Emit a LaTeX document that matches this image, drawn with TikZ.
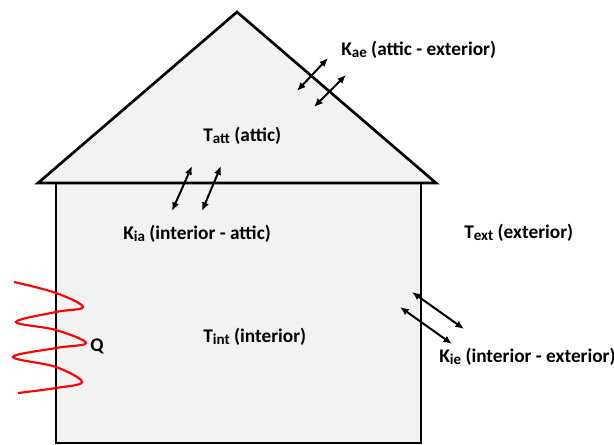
\documentclass[tikz,border=0pt]{standalone}
\usepackage{fontspec}
\setmainfont{Carlito}
\usetikzlibrary{arrows.meta}
\definecolor{housefill}{RGB}{242,242,242}
\newcommand{\subtxt}[1]{\raisebox{-1.2pt}{\fontsize{11.3}{12}\selectfont #1}}
\begin{document}
\begin{tikzpicture}[x=0.75pt,y=-0.75pt,
  wall/.style={draw=black,line width=2pt,fill=housefill},
  lbl/.style={anchor=base west,inner sep=0pt,font=\fontsize{14.5}{16}\selectfont\bfseries},
  flux/.style={{Latex[length=6.5pt,width=5.5pt]}-{Latex[length=6.5pt,width=5.5pt]},line width=1.5pt},
  heat/.style={red,line width=1.6pt}]
\useasboundingbox (0,0) rectangle (614,445);
% house body and roof
\draw[wall] (56,183) rectangle (421,443);
\draw[wall] (38,183) -- (237,12) -- (436,183) -- cycle;
% labels
\node[lbl] (kae)  at (341,56)  {K\subtxt{ae} (attic - exterior)};
\node[lbl] (tatt) at (203,142) {T\subtxt{att} (attic)};
\node[lbl] (kia)  at (123,240) {K\subtxt{ia} (interior - attic)};
\node[lbl] (text) at (464,239) {T\subtxt{ext} (exterior)};
\node[lbl] (tint) at (203,343) {T\subtxt{int} (interior)};
\node[lbl] (kie)  at (439,363) {K\subtxt{ie} (interior - exterior)};
\node[lbl] (q)    at (90,351)  {Q};
% flux arrows
\coordinate (ae1a) at (297,91);  \coordinate (ae1b) at (328,58);
\coordinate (ae2a) at (314,107); \coordinate (ae2b) at (346,75);
\coordinate (ia1a) at (172,211); \coordinate (ia1b) at (192,166);
\coordinate (ia2a) at (202,211); \coordinate (ia2b) at (221,166);
\coordinate (ie1a) at (412,292); \coordinate (ie1b) at (464,329);
\coordinate (ie2a) at (400,307); \coordinate (ie2b) at (452,344);
\draw[flux] (ae1a) -- (ae1b);
\draw[flux] (ae2a) -- (ae2b);
\draw[flux] (ia1a) -- (ia1b);
\draw[flux] (ia2a) -- (ia2b);
\draw[flux] (ie1a) -- (ie1b);
\draw[flux] (ie2a) -- (ie2b);
% heat source wave
\draw[heat] plot[smooth,tension=0.6] coordinates {(14,282) (56,293) (83,307) (56,312) (16,322) (56,330) (86,343) (56,348) (13,357) (56,367) (82,382) (56,388) (18,393)};
\end{tikzpicture}
\end{document}
